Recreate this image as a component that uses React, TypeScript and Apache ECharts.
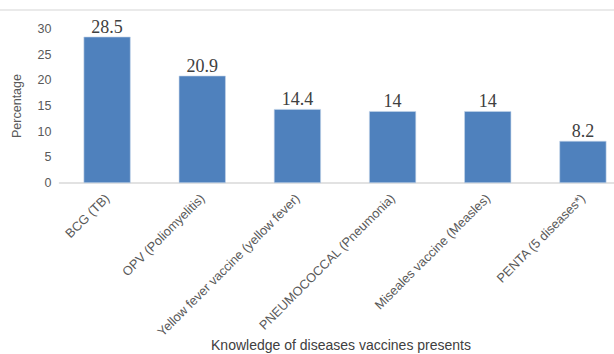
import React, { useEffect, useRef } from "react";
import * as echarts from "echarts";

const categories = [
  "BCG (TB)",
  "OPV (Poliomyelitis)",
  "Yellow fever vaccine (yellow fever)",
  "PNEUMOCOCCAL (Pneumonia)",
  "Miseales vaccine (Measles)",
  "PENTA (5 diseases*)",
];
const values = [28.5, 20.9, 14.4, 14, 14, 8.2];
const yTicks = { min: 0, max: 30, interval: 5 };
const yTitle = "Percentage";
const xTitle = "Knowledge of diseases vaccines presents";

export default function App() {
  const ref = useRef<HTMLDivElement>(null);
  useEffect(() => {
    if (!ref.current) return;
    const chart = echarts.init(ref.current, undefined, { renderer: "svg" });
    chart.setOption({
      animation: false,
      backgroundColor: "#ffffff",
      grid: { left: 59.5, top: 29, width: 571, height: 154 },
      xAxis: {
        type: "category",
        data: categories,
        axisLine: { lineStyle: { color: "#d9d9d9", width: 1.5 } },
        axisTick: { show: false },
        axisLabel: {
          rotate: 45,
          interval: 0,
          margin: 13,
          color: "#595959",
          fontFamily: "Liberation Sans",
          fontSize: 12.8,
        },
      },
      yAxis: {
        type: "value",
        min: yTicks.min,
        max: yTicks.max,
        interval: yTicks.interval,
        name: yTitle,
        nameLocation: "middle",
        nameGap: 36,
        nameTextStyle: { color: "#595959", fontFamily: "Liberation Sans", fontSize: 12.5 },
        axisLine: { show: false },
        axisTick: { show: false },
        splitLine: { show: false },
        axisLabel: {
          margin: 8,
          color: "#595959",
          fontFamily: "Liberation Sans",
          fontSize: 12.5,
        },
      },
      series: [
        {
          type: "bar",
          data: values,
          barWidth: 47,
          itemStyle: { color: "#4f81bd", borderColor: "#c5d5ea", borderWidth: 0.6 },
          label: {
            show: true,
            position: "top",
            distance: 1,
            color: "#404040",
            fontFamily: "Liberation Serif",
            fontSize: 18,
          },
        },
      ],
      graphic: [
        {
          type: "line",
          shape: { x1: 0, y1: 10, x2: 632, y2: 10 },
          style: { stroke: "#e3e3e3", lineWidth: 1.5 },
        },
        {
          type: "text",
          x: 341,
          y: 345,
          style: {
            text: xTitle,
            fill: "#404040",
            font: "14px Liberation Sans",
            textAlign: "center",
            textVerticalAlign: "middle",
          },
        },
      ],
    });
    return () => chart.dispose();
  }, []);
  return (
    <div style={{ position: "fixed", left: 0, top: 0, width: 614, height: 354, overflow: "hidden" }}>
      <div ref={ref} style={{ width: 632, height: 354 }} />
    </div>
  );
}
